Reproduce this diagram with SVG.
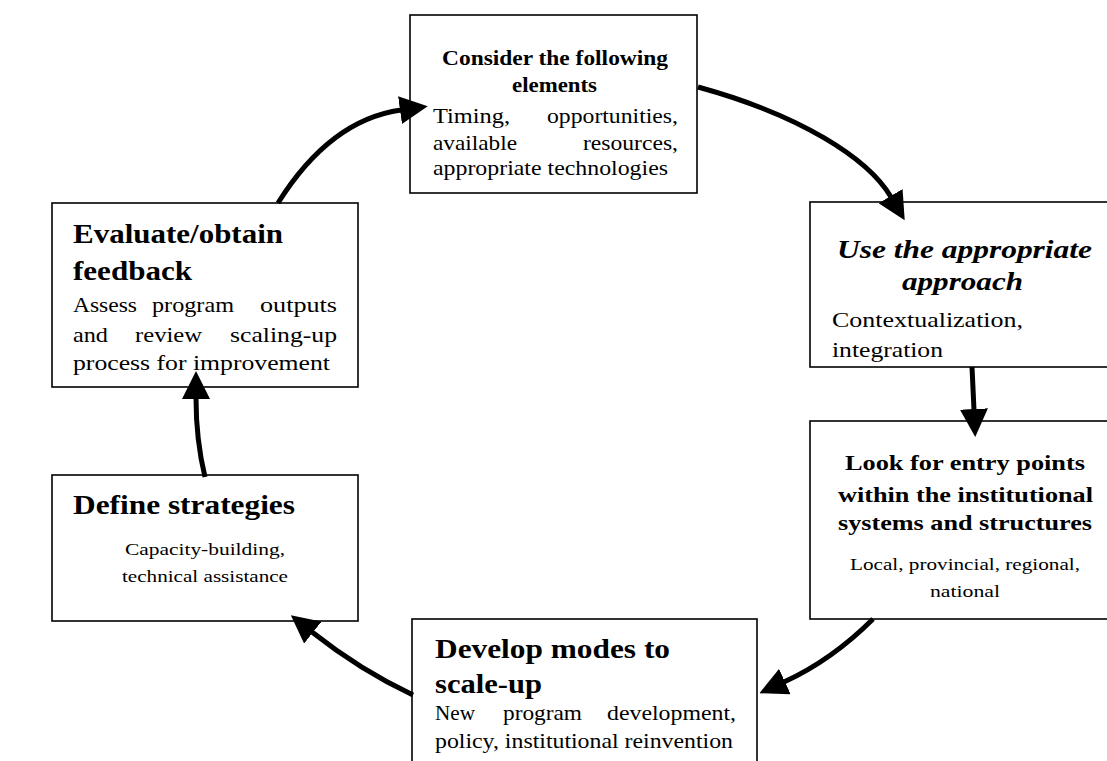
<svg xmlns="http://www.w3.org/2000/svg" width="1107" height="761" viewBox="0 0 1107 761">
<style>
.box{fill:#fff;stroke:#000;stroke-width:1.6}
.t{font-family:"Liberation Serif","Times New Roman",serif;fill:#000}
.h{font-weight:bold}
.hi{font-weight:bold;font-style:italic}
.conn{fill:none;stroke:#000;stroke-width:5;stroke-linecap:butt}
</style>
<defs>
<marker id="ah" viewBox="0 -14 28 28" markerUnits="userSpaceOnUse" markerWidth="28" markerHeight="28" refX="1" refY="0" orient="auto">
<path d="M0,-14 L28,0 L0,14 z" fill="#000"/>
</marker>
</defs>
<rect width="1107" height="761" fill="#fff"/>

<g id="consider">
<rect class="box" x="410" y="15" width="287" height="178"/>
<text class="t h" font-size="22" x="442" y="65" textLength="226" lengthAdjust="spacingAndGlyphs">Consider the following</text>
<text class="t h" font-size="22" x="512" y="92" textLength="85" lengthAdjust="spacingAndGlyphs">elements</text>
<text class="t" font-size="22" x="433" y="123" textLength="77" lengthAdjust="spacingAndGlyphs">Timing,</text>
<text class="t" font-size="22" x="547" y="123" textLength="131" lengthAdjust="spacingAndGlyphs">opportunities,</text>
<text class="t" font-size="22" x="433" y="150" textLength="84" lengthAdjust="spacingAndGlyphs">available</text>
<text class="t" font-size="22" x="583" y="150" textLength="95" lengthAdjust="spacingAndGlyphs">resources,</text>
<text class="t" font-size="22" x="433" y="175" textLength="235" lengthAdjust="spacingAndGlyphs">appropriate technologies</text>
</g>

<g id="approach">
<rect class="box" x="810" y="202" width="300" height="165"/>
<text class="t hi" font-size="26" x="837" y="258" textLength="255" lengthAdjust="spacingAndGlyphs">Use the appropriate</text>
<text class="t hi" font-size="26" x="902" y="290" textLength="121" lengthAdjust="spacingAndGlyphs">approach</text>
<text class="t" font-size="22" x="832" y="327" textLength="191" lengthAdjust="spacingAndGlyphs">Contextualization,</text>
<text class="t" font-size="22" x="832" y="357" textLength="111" lengthAdjust="spacingAndGlyphs">integration</text>
</g>

<g id="entry">
<rect class="box" x="810" y="421" width="300" height="198"/>
<text class="t h" font-size="22" x="845" y="470" textLength="240" lengthAdjust="spacingAndGlyphs">Look for entry points</text>
<text class="t h" font-size="22" x="838" y="502" textLength="255" lengthAdjust="spacingAndGlyphs">within the institutional</text>
<text class="t h" font-size="22" x="838" y="530" textLength="254" lengthAdjust="spacingAndGlyphs">systems and structures</text>
<text class="t" font-size="17" x="850" y="570" textLength="230" lengthAdjust="spacingAndGlyphs">Local, provincial, regional,</text>
<text class="t" font-size="17" x="930" y="597" textLength="70" lengthAdjust="spacingAndGlyphs">national</text>
</g>

<g id="develop">
<rect class="box" x="412" y="619" width="345" height="160"/>
<text class="t h" font-size="27" x="435" y="658" textLength="235" lengthAdjust="spacingAndGlyphs">Develop modes to</text>
<text class="t h" font-size="27" x="435" y="693" textLength="107" lengthAdjust="spacingAndGlyphs">scale-up</text>
<text class="t" font-size="22" x="435" y="720" textLength="40" lengthAdjust="spacingAndGlyphs">New</text>
<text class="t" font-size="22" x="503" y="720" textLength="79" lengthAdjust="spacingAndGlyphs">program</text>
<text class="t" font-size="22" x="607" y="720" textLength="129" lengthAdjust="spacingAndGlyphs">development,</text>
<text class="t" font-size="22" x="435" y="748" textLength="298" lengthAdjust="spacingAndGlyphs">policy, institutional reinvention</text>
</g>

<g id="strategies">
<rect class="box" x="52" y="475" width="306" height="146"/>
<text class="t h" font-size="28" x="73" y="514" textLength="222" lengthAdjust="spacingAndGlyphs">Define strategies</text>
<text class="t" font-size="16" x="125" y="555" textLength="160" lengthAdjust="spacingAndGlyphs">Capacity-building,</text>
<text class="t" font-size="16" x="122" y="582" textLength="166" lengthAdjust="spacingAndGlyphs">technical assistance</text>
</g>

<g id="evaluate">
<rect class="box" x="52" y="203" width="306" height="184"/>
<text class="t h" font-size="28" x="73" y="243" textLength="210" lengthAdjust="spacingAndGlyphs">Evaluate/obtain</text>
<text class="t h" font-size="28" x="73" y="280" textLength="119" lengthAdjust="spacingAndGlyphs">feedback</text>
<text class="t" font-size="21" x="73" y="312" textLength="64" lengthAdjust="spacingAndGlyphs">Assess</text>
<text class="t" font-size="21" x="152" y="312" textLength="82" lengthAdjust="spacingAndGlyphs">program</text>
<text class="t" font-size="21" x="260" y="312" textLength="77" lengthAdjust="spacingAndGlyphs">outputs</text>
<text class="t" font-size="21" x="73" y="342" textLength="35" lengthAdjust="spacingAndGlyphs">and</text>
<text class="t" font-size="21" x="135" y="342" textLength="67" lengthAdjust="spacingAndGlyphs">review</text>
<text class="t" font-size="21" x="230" y="342" textLength="107" lengthAdjust="spacingAndGlyphs">scaling-up</text>
<text class="t" font-size="21" x="73" y="370" textLength="257" lengthAdjust="spacingAndGlyphs">process for improvement</text>
</g>

<g id="connectors">
<path class="conn" d="M278,203 Q330,120 401,110" marker-end="url(#ah)"/>
<path class="conn" d="M698,87 C800,115 868,158 891,197" marker-end="url(#ah)"/>
<path class="conn" d="M972,367 L974,410" marker-end="url(#ah)"/>
<path class="conn" d="M873,619 Q832,660 784,682" marker-end="url(#ah)"/>
<path class="conn" d="M413,695 Q360,670 312,632" marker-end="url(#ah)"/>
<path class="conn" d="M205,477 Q196,440 196,398" marker-end="url(#ah)"/>
</g>
</svg>
